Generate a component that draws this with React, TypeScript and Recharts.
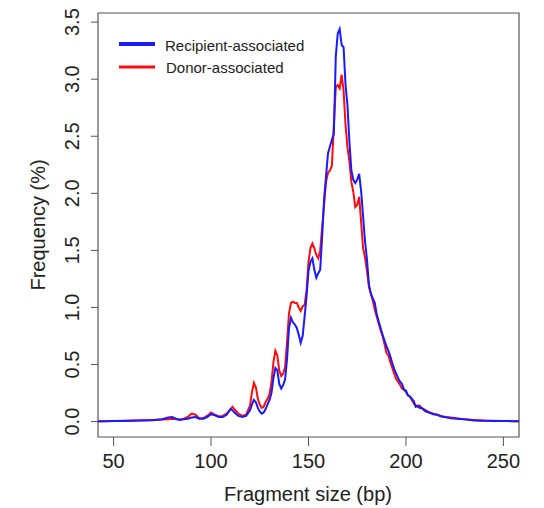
import React from "react";
import { LineChart, Line, XAxis, YAxis, ReferenceArea, Customized } from "recharts";

const sizes = [
  40, 45, 50, 55, 60, 65, 70, 75, 78, 80, 82, 84, 86, 88, 90, 92, 94, 96, 98, 100, 102, 104, 106, 108, 110, 111, 112, 114, 116, 118,
  120, 121, 122, 123, 124, 125, 126, 127, 128, 129, 130, 131, 132, 133, 134, 135, 136, 137, 138, 139,
  140, 141, 142, 143, 144, 145, 146, 147, 148, 149, 150, 151, 152, 153, 154, 155, 156, 157, 158, 159,
  160, 161, 162, 163, 164, 165, 166, 167, 168, 169, 170, 171, 172, 173, 174, 175, 176, 177, 178, 179,
  180, 181, 182, 183, 184, 185, 186, 187, 188, 189, 190, 191, 192, 193, 194, 195, 196, 197, 198, 199,
  200, 201, 202, 203, 204, 205, 206, 207, 208, 210, 212, 214, 216, 218, 220, 223, 226, 230, 235, 240, 245, 250, 255, 260,
];

const donor = [
  0.004, 0.004, 0.005, 0.008, 0.01, 0.012, 0.015, 0.018, 0.02, 0.025, 0.02, 0.018, 0.025, 0.04, 0.07, 0.06, 0.03, 0.03, 0.05, 0.08, 0.06, 0.045, 0.05, 0.07, 0.11, 0.13, 0.11, 0.07, 0.05, 0.06,
  0.14, 0.26, 0.34, 0.3, 0.2, 0.15, 0.12, 0.13, 0.17, 0.2, 0.24, 0.34, 0.52, 0.62, 0.58, 0.45, 0.4, 0.42, 0.48, 0.7,
  0.95, 1.04, 1.05, 1.04, 1.04, 1.0, 0.97, 1.01, 1.02, 1.15, 1.4, 1.52, 1.56, 1.52, 1.46, 1.43, 1.5, 1.7, 1.9, 2.1,
  2.18, 2.2, 2.24, 2.6, 2.93, 2.95, 2.92, 3.04, 2.9, 2.6, 2.4, 2.28, 2.1, 2.01, 1.88, 1.9, 1.97, 1.75, 1.52, 1.44,
  1.32, 1.18, 1.12, 1.06, 0.98, 0.92, 0.86, 0.8, 0.75, 0.68, 0.6, 0.58, 0.52, 0.47, 0.42, 0.37, 0.35, 0.32, 0.29, 0.28,
  0.26, 0.23, 0.22, 0.19, 0.16, 0.14, 0.13, 0.14, 0.12, 0.1, 0.08, 0.07, 0.06, 0.05, 0.04, 0.035, 0.03, 0.02, 0.015, 0.01, 0.008, 0.005, 0.004, 0.004,
];

const recipient = [
  0.004, 0.004, 0.005, 0.006, 0.008, 0.01, 0.012, 0.02, 0.035, 0.04, 0.025, 0.015, 0.02, 0.025, 0.035, 0.04, 0.025, 0.025, 0.04, 0.065, 0.055, 0.04, 0.04, 0.06, 0.11, 0.1, 0.08, 0.05, 0.04, 0.05,
  0.1, 0.15, 0.19, 0.17, 0.12, 0.09, 0.07, 0.08, 0.11, 0.15, 0.19, 0.25, 0.38, 0.47, 0.45, 0.33, 0.29, 0.32, 0.37, 0.55,
  0.82, 0.91, 0.87, 0.85, 0.82, 0.76, 0.69, 0.75, 0.92, 1.1, 1.32, 1.4, 1.43, 1.33, 1.26, 1.3, 1.33, 1.62, 1.95, 2.15,
  2.35, 2.41, 2.47, 2.52, 3.2, 3.4, 3.44, 3.3, 3.28, 2.95, 2.77, 2.45, 2.2, 2.12, 2.09, 2.12, 2.17, 2.02, 1.8, 1.58,
  1.42, 1.2, 1.12, 1.08, 1.04, 0.94, 0.88, 0.82, 0.76, 0.71, 0.66, 0.62, 0.57, 0.51, 0.46, 0.42, 0.38, 0.35, 0.33, 0.28,
  0.27, 0.23, 0.22, 0.2, 0.18, 0.13, 0.14, 0.12, 0.12, 0.09, 0.08, 0.065, 0.06, 0.045, 0.04, 0.03, 0.025, 0.02, 0.01, 0.008, 0.006, 0.005, 0.004, 0.004,
];

const xTicks = [50, 100, 150, 200, 250];
const yTicks = [0, 0.5, 1.0, 1.5, 2.0, 2.5, 3.0, 3.5];
const seriesNames = ["Recipient-associated", "Donor-associated"];
const xTitle = "Fragment size (bp)";
const yTitle = "Frequency (%)";

const data = sizes.map((s, i) => ({ size: s, recipient: recipient[i], donor: donor[i] }));

const FONT = "'Liberation Sans', Arial, Helvetica, sans-serif";
const AXIS = "#555555";
const BLUE = "#1a1aff";
const RED = "#ff0d0d";

const XTick = (props: any) => {
  const { x, payload } = props;
  return (
    <text x={x} y={468} textAnchor="middle" fontSize={20} fontFamily={FONT} fill="#222">
      {payload.value}
    </text>
  );
};

const YTick = (props: any) => {
  const { y, payload } = props;
  const bx = 79;
  return (
    <text x={bx} y={y} transform={`rotate(-90, ${bx}, ${y})`} textAnchor="middle" fontSize={20} fontFamily={FONT} fill="#222">
      {Number(payload.value).toFixed(1)}
    </text>
  );
};

const Decorations = () => (
  <g fontFamily={FONT} fill="#222">
    <text x={308} y={501} textAnchor="middle" fontSize={20}>{xTitle}</text>
    <text x={45} y={225} transform="rotate(-90, 45, 225)" textAnchor="middle" fontSize={20}>{yTitle}</text>
    <line x1={119} x2={155} y1={44} y2={44} stroke={BLUE} strokeWidth={4} />
    <text x={165} y={50.5} fontSize={15}>{seriesNames[0]}</text>
    <line x1={119} x2={155} y1={67} y2={67} stroke={RED} strokeWidth={3} />
    <text x={166} y={72.5} fontSize={15}>{seriesNames[1]}</text>
  </g>
);

export default function App() {
  return (
    <div style={{ position: "absolute", left: 0, top: 0, background: "#fff" }}>
      <LineChart width={544} height={508} data={data} margin={{ top: 13, right: 25, bottom: 0, left: 0 }}>
        <XAxis
          dataKey="size"
          type="number"
          domain={[42, 258]}
          ticks={xTicks}
          allowDataOverflow
          height={71}
          tickSize={9}
          axisLine={false}
          tickLine={{ stroke: AXIS }}
          tick={<XTick />}
        />
        <YAxis
          type="number"
          domain={[-0.135, 3.58]}
          ticks={yTicks}
          allowDataOverflow
          width={98}
          tickSize={7}
          axisLine={false}
          tickLine={{ stroke: AXIS }}
          tick={<YTick />}
        />
        <Line type="linear" dataKey="donor" name={seriesNames[1]} stroke={RED} strokeWidth={2} dot={false} isAnimationActive={false} />
        <Line type="linear" dataKey="recipient" name={seriesNames[0]} stroke={BLUE} strokeWidth={2} dot={false} isAnimationActive={false} />
        <ReferenceArea x1={42} x2={258} y1={-0.135} y2={3.58} fill="none" stroke={AXIS} strokeWidth={1.2} ifOverflow="visible" />
        <Customized component={Decorations} />
      </LineChart>
    </div>
  );
}
